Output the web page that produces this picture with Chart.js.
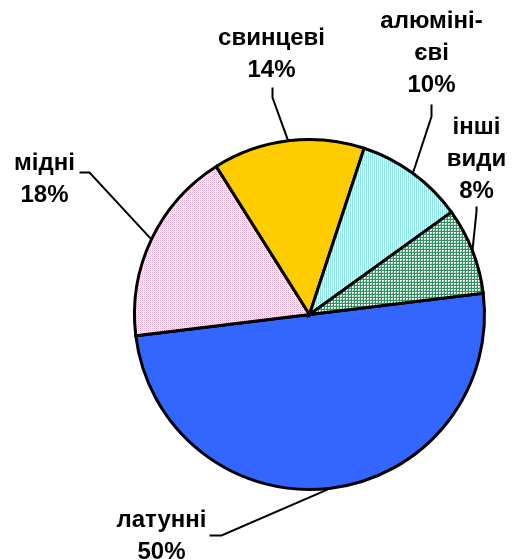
<!DOCTYPE html>
<html>
<head>
<meta charset="utf-8">
<script src="https://cdn.jsdelivr.net/npm/chart.js@4.4.1/dist/chart.umd.min.js"></script>
<style>
  html, body { margin: 0; padding: 0; background: #ffffff; }
  #wrap { position: relative; width: 514px; height: 560px; }
</style>
</head>
<body>
<div id="wrap"><canvas id="c" width="514" height="560"></canvas></div>
<script>
// ---- data ----
const categories = ["латунні", "мідні", "свинцеві", "алюмінієві", "інші види"];
const labelLines = [["латунні", "50%"], ["мідні", "18%"], ["свинцеві", "14%"], ["алюміні-", "єві", "10%"], ["інші", "види", "8%"]];
const shares = [50, 18, 14, 10, 8];

// ---- patterns ----
function makePattern(w, h, draw) {
  const c = document.createElement('canvas');
  c.width = w; c.height = h;
  const g = c.getContext('2d');
  draw(g);
  return g.createPattern(c, 'repeat');
}
const pinkDots = makePattern(2, 2, g => {
  g.fillStyle = '#ffffff'; g.fillRect(0, 0, 2, 2);
  g.fillStyle = '#e4a8c6'; g.fillRect(0, 0, 1, 1);
  g.fillStyle = '#f2d2e2'; g.fillRect(1, 1, 1, 1);
});
const cyanLines = makePattern(2, 1, g => {
  g.fillStyle = '#8fe6e6'; g.fillRect(0, 0, 1, 1);
  g.fillStyle = '#e8ffff'; g.fillRect(1, 0, 1, 1);
});
const greenGrid = makePattern(3, 3, g => {
  g.fillStyle = '#ffffff'; g.fillRect(0, 0, 3, 3);
  g.fillStyle = '#2f9460'; g.fillRect(0, 0, 3, 1); g.fillRect(0, 0, 1, 3);
  g.fillStyle = '#8fcfae'; g.fillRect(2, 2, 1, 1);
});
const fills = ['#3366ff', pinkDots, '#ffcc00', cyanLines, greenGrid];

// ---- label layout (relative to pie centre) ----
const labelLayout = [
  { tx: -148, ty: 212, lead: [[-100, 221], [-88, 221]] },
  { tx: -265, ty: -145, lead: [[-230, -142], [-220, -142]] },
  { tx: -38, ty: -270, lead: [[-37, -227], [-37, -217]] },
  { tx: 122, ty: -287, lead: [[122, -210], [122, -198]] },
  { tx: 167, ty: -181, lead: [[167, -108], [167, -103]] }
];

const labelPlugin = {
  id: 'pieLabels',
  afterDatasetsDraw(chart) {
    const ctx = chart.ctx;
    const meta = chart.getDatasetMeta(0);
    ctx.save();
    meta.data.forEach((arc, i) => {
      const p = arc.getProps(['x', 'y', 'startAngle', 'endAngle', 'outerRadius'], true);
      const mid = (p.startAngle + p.endAngle) / 2;
      const ax = p.x + Math.cos(mid) * p.outerRadius;
      const ay = p.y + Math.sin(mid) * p.outerRadius;
      const L = labelLayout[i];
      ctx.strokeStyle = '#000';
      ctx.lineWidth = 2;
      ctx.beginPath();
      ctx.moveTo(p.x + L.lead[0][0], p.y + L.lead[0][1]);
      ctx.lineTo(p.x + L.lead[1][0], p.y + L.lead[1][1]);
      ctx.lineTo(ax, ay);
      ctx.stroke();
      ctx.fillStyle = '#000';
      ctx.font = "bold 24px 'Liberation Sans', Arial, sans-serif";
      ctx.textAlign = 'center';
      ctx.textBaseline = 'alphabetic';
      labelLines[i].forEach((t, k) => {
        ctx.fillText(t, p.x + L.tx, p.y + L.ty + k * 32);
      });
    });
    ctx.restore();
  }
};

new Chart(document.getElementById('c'), {
  type: 'pie',
  data: {
    labels: categories,
    datasets: [{
      data: shares,
      backgroundColor: fills,
      borderColor: '#000000',
      borderWidth: 3,
      borderJoinStyle: 'miter'
    }]
  },
  options: {
    responsive: false,
    animation: false,
    rotation: 83,
    layout: { padding: { left: 133, right: 28, top: 138, bottom: 69 } },
    plugins: {
      legend: { display: false },
      tooltip: { enabled: false }
    }
  },
  plugins: [labelPlugin]
});
</script>
</body>
</html>
